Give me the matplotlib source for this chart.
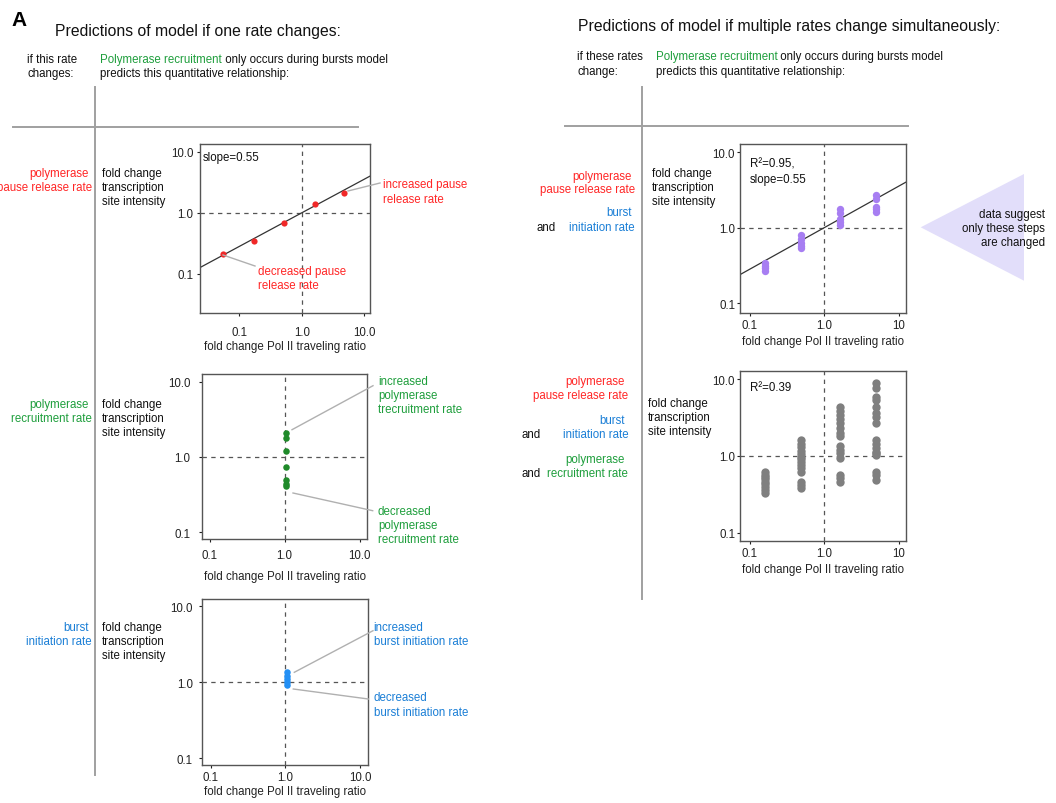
import numpy as np
import matplotlib
matplotlib.use("Agg")
import matplotlib.pyplot as plt
from matplotlib.ticker import NullLocator
from matplotlib.patches import Polygon

plt.rcParams['font.family'] = ['Liberation Sans', 'DejaVu Sans']

# ---------------- data ----------------
pause_x = [0.054, 0.17, 0.51, 1.6, 4.8]
pause_y = [0.21, 0.34, 0.69, 1.38, 2.07]

recruit_x = [1.06, 1.06, 1.06, 1.06, 1.06, 1.06, 1.06]
recruit_y = [2.05, 1.78, 1.2, 0.74, 0.5, 0.44, 0.41]

burst_x = [1.04, 1.04, 1.04, 1.04, 1.04]
burst_y = [1.35, 1.22, 1.1, 1.0, 0.93]

two_x = [0.16] * 4 + [0.49] * 5 + [1.62] * 5 + [5.0] * 5
two_y = [0.34, 0.31, 0.29, 0.27,
         0.80, 0.71, 0.63, 0.57, 0.54,
         1.78, 1.55, 1.30, 1.18, 1.10,
         2.70, 2.40, 1.90, 1.75, 1.62]

three_x = [0.16] * 9 + [0.49] * 14 + [1.62] * 15 + [5.0] * 17
three_y = [0.61, 0.565, 0.527, 0.496, 0.463, 0.431, 0.398, 0.36, 0.326,
           1.62, 1.43, 1.30, 1.17, 1.06, 0.98, 0.905, 0.835, 0.763, 0.69, 0.625, 0.46, 0.418, 0.379,
           4.4, 3.9, 3.43, 3.0, 2.67, 2.3, 1.98, 1.82, 1.35, 1.2, 1.08, 0.93, 0.565, 0.51, 0.46,
           8.9, 7.6, 5.9, 5.3, 4.4, 3.67, 3.19, 2.72, 1.62, 1.43, 1.26, 1.14, 1.08, 1.03, 0.625, 0.565, 0.486]

slope = 0.55
tick_vals = [0.1, 1.0, 10.0]
tick_labels = ['0.1', '1.0', '10.0']
tick_labels_short = ['0.1', '1.0', '10']

# ---------------- style ----------------
RED_T = '#ff2626'
RED_D = '#f02828'
GREEN_T = '#1e9e3c'
GREEN_D = '#1f8a2a'
BLUE_T = '#1a7ed6'
BLUE_D = '#2390f5'
PURPLE = '#a77ef2'
GREY_D = '#7f7f7f'
SEP = '#a0a0a0'
TRI = '#e2defa'
FS = 8.3

W, H = 1056, 804
fig = plt.figure(figsize=(W / 100, H / 100), dpi=100)
fig.patch.set_facecolor('white')


def T(x, y, s, color='#111111', ha='left', size=FS, **kw):
    return fig.text(x / W, 1 - y / H, s, ha=ha, va='center', color=color,
                    fontsize=size, **kw)


def make_ax(l, r, t, b, xl, yl, xlabs, xpad, ypad, xlab_off):
    ax = fig.add_axes([l / W, 1 - b / H, (r - l) / W, (b - t) / H])
    ax.set_xscale('log')
    ax.set_yscale('log')
    ax.set_xlim(10 ** xl[0], 10 ** xl[1])
    ax.set_ylim(10 ** yl[0], 10 ** yl[1])
    ax.set_xticks(tick_vals)
    ax.set_xticklabels(xlabs)
    ax.set_yticks(tick_vals)
    ax.set_yticklabels(tick_labels)
    ax.xaxis.set_minor_locator(NullLocator())
    ax.yaxis.set_minor_locator(NullLocator())
    ax.tick_params(axis='x', length=2.5, width=0.8, pad=xpad, labelsize=FS,
                   colors='#222222')
    ax.tick_params(axis='y', length=2.5, width=0.8, pad=ypad, labelsize=FS,
                   colors='#222222')
    for sp in ax.spines.values():
        sp.set_color('#555555')
        sp.set_linewidth(1.0)
    ax.axhline(1.0, color='#555555', lw=0.9, ls=(0, (3.5, 3.5)), zorder=1)
    ax.axvline(1.0, color='#555555', lw=0.9, ls=(0, (3.5, 3.5)), zorder=1)
    ax.set_xlabel('fold change Pol II traveling ratio', fontsize=FS, color='#222222')
    ax.xaxis.set_label_coords(0.5, -xlab_off / (b - t))
    ax.xaxis.label.set_va('center')
    return ax


# ---------------- panels ----------------
ax1 = make_ax(200, 370, 145, 314, (-1.63, 1.09), (-1.64, 1.125), tick_labels, 6.5, 2.3, 33)
xx = np.array(ax1.get_xlim())
ax1.plot(xx, xx ** slope, color='#333333', lw=0.9, zorder=2)
ax1.scatter(pause_x, pause_y, s=20, color=RED_D, zorder=3, linewidths=0)

ax2 = make_ax(202, 367, 375, 540, (-1.1, 1.1), (-1.09, 1.1), tick_labels, 4.7, 6.0, 37)
ax2.scatter(recruit_x, recruit_y, s=22, color=GREEN_D, zorder=3, linewidths=0)

ax3 = make_ax(202, 368, 600, 766, (-1.12, 1.107), (-1.09, 1.096), tick_labels, 1.8, 4.0, 26)
ax3.scatter(burst_x, burst_y, s=22, color=BLUE_D, zorder=3, linewidths=0)

ax4 = make_ax(740, 906, 145, 314, (-1.13, 1.1), (-1.13, 1.11), tick_labels_short, 1.5, 1.1, 28)
xx = np.array(ax4.get_xlim())
ax4.plot(xx, xx ** slope, color='#333333', lw=0.9, zorder=2)
ax4.scatter(two_x, two_y, s=28, color=PURPLE, zorder=3, linewidths=0)

ax5 = make_ax(740, 906, 372, 542, (-1.13, 1.1), (-1.11, 1.108), tick_labels_short, 1.5, 1.1, 28)
ax5.scatter(three_x, three_y, s=36, color=GREY_D, zorder=3, linewidths=0)

# ---------------- overlay: separators, leader lines, triangle ----------------
ov = fig.add_axes([0, 0, 1, 1], zorder=-1)
ov.set_xlim(0, W)
ov.set_ylim(H, 0)
ov.axis('off')
ov.plot([95, 95], [88, 776], color=SEP, lw=1.4)
ov.plot([13, 358], [128, 128], color=SEP, lw=1.4)
ov.plot([642, 642], [88, 600], color=SEP, lw=1.4)
ov.plot([565, 908], [127, 127], color=SEP, lw=1.4)
ov.add_patch(Polygon([[920.7, 228.3], [1024, 175], [1024, 281.7]], closed=True,
                     facecolor=TRI, edgecolor='none'))

lead = dict(color='#b0b0b0', lw=1.0)
ov2 = fig.add_axes([0, 0, 1, 1], zorder=5)
ov2.set_xlim(0, W)
ov2.set_ylim(H, 0)
ov2.axis('off')
ov2.patch.set_alpha(0)
ov2.plot([348, 380], [192, 184], **lead)
ov2.plot([223, 255], [256, 267], **lead)
ov2.plot([292, 373], [430.7, 386.7], **lead)
ov2.plot([293, 372.7], [494, 511.7], **lead)
ov2.plot([294.3, 373], [673.3, 631.7], **lead)
ov2.plot([293.3, 368.3], [690, 700], **lead)

# ---------------- texts ----------------
T(11, 20, 'A', size=15, weight='bold', color='black')
T(55, 31.5, 'Predictions of model if one rate changes:', size=11.3)
T(578, 27, 'Predictions of model if multiple rates change simultaneously:', size=11.3)

fig.canvas.draw()
renderer = fig.canvas.get_renderer()


def two_color(x, y, s1, c1, s2, c2):
    t1 = T(x, y, s1, color=c1)
    bb = t1.get_window_extent(renderer=renderer)
    T(x + bb.width, y, s2, color=c2)


T(27, 60, 'if this rate')
T(27, 74, 'changes:')
two_color(100, 60, 'Polymerase recruitment', GREEN_T, ' only occurs during bursts model', '#111111')
T(100, 74, 'predicts this quantitative relationship:')

T(577, 57.5, 'if these rates')
T(577, 71.7, 'change:')
two_color(655.7, 57.5, 'Polymerase recruitment', GREEN_T, ' only occurs during bursts model', '#111111')
T(655.7, 71.7, 'predicts this quantitative relationship:')


def ylab(x, y0):
    T(x, y0, 'fold change')
    T(x, y0 + 14, 'transcription')
    T(x, y0 + 28, 'site intensity')


# panel 1 labels
T(89, 174, 'polymerase', color=RED_T, ha='right')
T(92, 188.5, 'pause release rate', color=RED_T, ha='right')
ylab(102, 174)
T(203, 158, 'slope=0.55')
T(383, 185, 'increased pause', color=RED_T)
T(383, 200, 'release rate', color=RED_T)
T(258, 272, 'decreased pause', color=RED_T)
T(258, 286, 'release rate', color=RED_T)

# panel 2 labels
T(89, 405, 'polymerase', color=GREEN_T, ha='right')
T(92, 419, 'recruitment rate', color=GREEN_T, ha='right')
ylab(102, 405)
T(378, 381.7, 'increased', color=GREEN_T)
T(378, 395.7, 'polymerase', color=GREEN_T)
T(378, 410, 'trecruitment rate', color=GREEN_T)
T(378, 511.7, 'decreased', color=GREEN_T)
T(378, 525.7, 'polymerase', color=GREEN_T)
T(378, 540, 'recruitment rate', color=GREEN_T)

# panel 3 labels
T(89, 628, 'burst', color=BLUE_T, ha='right')
T(92, 642, 'initiation rate', color=BLUE_T, ha='right')
ylab(102, 628)
T(373.5, 627.7, 'increased', color=BLUE_T)
T(373.5, 641.7, 'burst initiation rate', color=BLUE_T)
T(373.5, 698.3, 'decreased', color=BLUE_T)
T(373.5, 712.7, 'burst initiation rate', color=BLUE_T)

# panel 4 labels
T(631.7, 176.7, 'polymerase', color=RED_T, ha='right')
T(635, 190.3, 'pause release rate', color=RED_T, ha='right')
T(631.7, 213.3, 'burst', color=BLUE_T, ha='right')
T(635, 227.7, 'initiation rate', color=BLUE_T, ha='right')
T(536.7, 227.7, 'and')
ylab(652.3, 174.3)
T(750, 164.3, 'R\u00b2=0.95,')
T(750, 180, 'slope=0.55')

T(1045, 215, 'data suggest', ha='right')
T(1045, 229.3, 'only these steps', ha='right')
T(1045, 243.3, 'are changed', ha='right')

# panel 5 labels
T(625, 381.7, 'polymerase', color=RED_T, ha='right')
T(628.3, 395.7, 'pause release rate', color=RED_T, ha='right')
T(625, 420.7, 'burst', color=BLUE_T, ha='right')
T(628.3, 435, 'initiation rate', color=BLUE_T, ha='right')
T(521.7, 435, 'and')
T(625, 460, 'polymerase', color=GREEN_T, ha='right')
T(628.3, 474, 'recruitment rate', color=GREEN_T, ha='right')
T(521.7, 474, 'and')
ylab(648.3, 404.3)
T(750, 388, 'R\u00b2=0.39')

fig.savefig('out.png', dpi=100, facecolor='white')
